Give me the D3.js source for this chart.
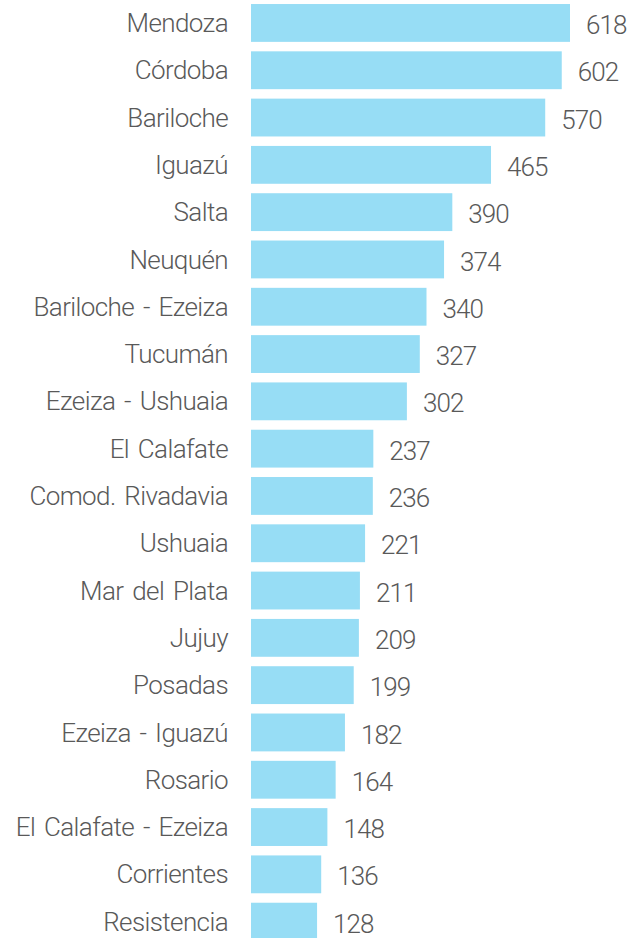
<!DOCTYPE html>
<html>
<head>
<meta charset="utf-8">
<script src="https://cdn.jsdelivr.net/npm/d3@7"></script>
<style>
  body { margin: 0; background: #fff; }
  svg text { font-family: Roboto, "Liberation Sans", sans-serif; fill: #595959; font-weight: 300; }
</style>
</head>
<body>
<svg id="canvas" width="632" height="938"></svg>
<script>
const destinos = ["Mendoza", "Córdoba", "Bariloche", "Iguazú", "Salta", "Neuquén",
  "Bariloche - Ezeiza", "Tucumán", "Ezeiza - Ushuaia", "El Calafate", "Comod. Rivadavia",
  "Ushuaia", "Mar del Plata", "Jujuy", "Posadas", "Ezeiza - Iguazú", "Rosario",
  "El Calafate - Ezeiza", "Corrientes", "Resistencia"];
const vuelos = [618, 602, 570, 465, 390, 374, 340, 327, 302, 237, 236, 221, 211, 209, 199, 182, 164, 148, 136, 128];

const data = destinos.map((d, i) => ({ name: d, value: vuelos[i] }));

let canvas = d3.select("#canvas");

let x = d3.scaleLinear()
  .domain([0, 618])
  .range([251, 570]);

let y = d3.scaleBand()
  .domain(destinos)
  .range([-0.7, 945.3])
  .paddingInner(0.2)
  .paddingOuter(0.1);

canvas.selectAll("rect")
  .data(data)
  .enter()
  .append("rect")
  .attr("x", x(0))
  .attr("y", (d) => y(d.name))
  .attr("width", (d) => x(d.value) - x(0))
  .attr("height", y.bandwidth())
  .attr("fill", "#97ddf5");

// category labels
canvas.selectAll("text.cat")
  .data(data)
  .enter()
  .append("text")
  .attr("class", "cat")
  .attr("x", 228)
  .attr("y", (d) => y(d.name) + y.bandwidth() / 2)
  .attr("dy", "0.35em")
  .attr("text-anchor", "end")
  .style("font-size", "26px")
  .style("letter-spacing", "-0.6px")
  .style("word-spacing", "3px")
  .text((d) => d.name);

// value labels
canvas.selectAll("text.val")
  .data(data)
  .enter()
  .append("text")
  .attr("class", "val")
  .attr("x", (d) => x(d.value) + 16)
  .attr("y", (d) => y(d.name) + y.bandwidth() / 2 + 2)
  .attr("dy", "0.35em")
  .style("font-size", "26px")
  .style("letter-spacing", "-0.9px")
  .text((d) => d.value);
</script>
</body>
</html>
